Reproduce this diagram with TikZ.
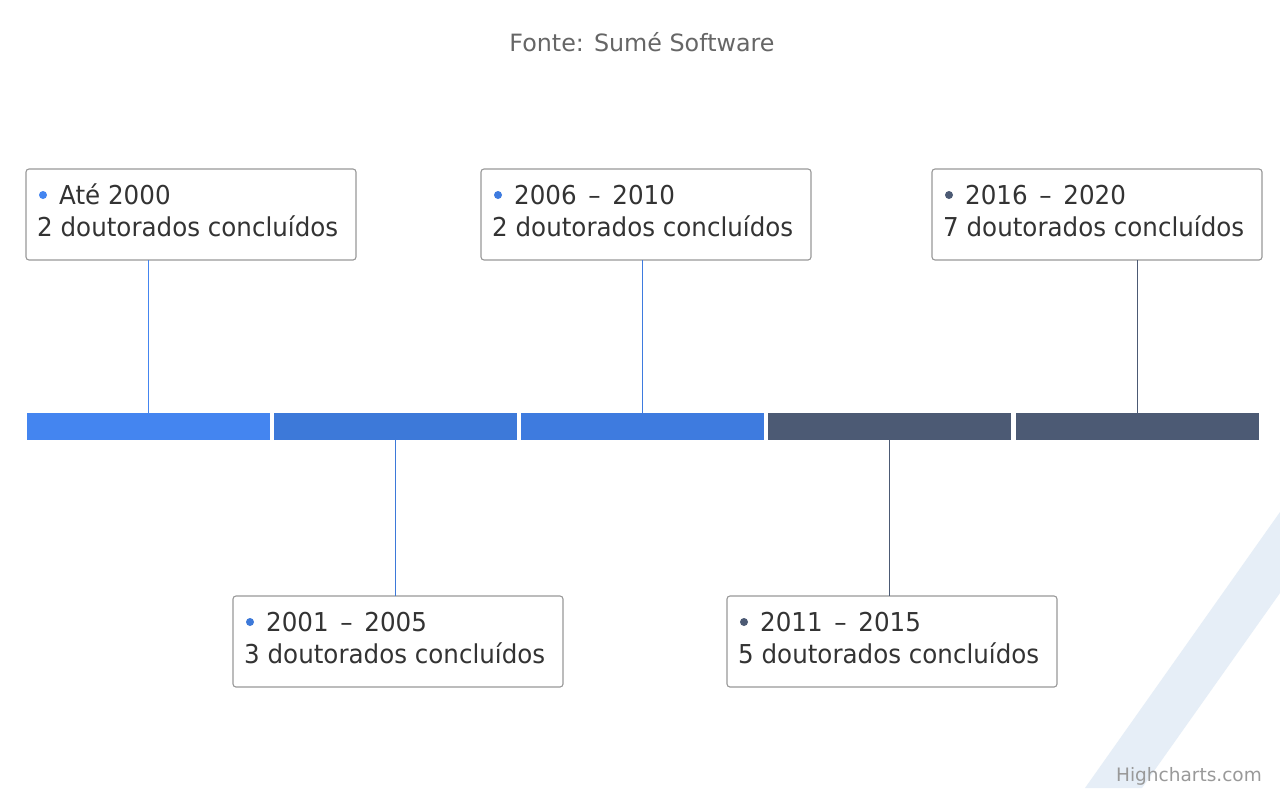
\documentclass[tikz,border=0pt]{standalone}
\usepackage{fontspec}
\newfontfamily\boxfont[FakeStretch=0.945]{DejaVu Sans}
\newfontfamily\titlefont{DejaVu Sans}
\usetikzlibrary{calc}
\definecolor{blueA}{HTML}{4485F0}
\definecolor{blueB}{HTML}{3D79D9}
\definecolor{blueC}{HTML}{3E7BDF}
\definecolor{slate}{HTML}{4C5A74}
\definecolor{txt}{HTML}{333333}
\definecolor{boxline}{HTML}{999999}
\definecolor{wm}{HTML}{E6EEF7}
\definecolor{subt}{HTML}{666666}
\definecolor{credit}{HTML}{999999}
\begin{document}
\begin{tikzpicture}[x=1pt,y=-1pt,
  seg/.style={fill=#1, draw=none, inner sep=0pt, outer sep=0pt, minimum height=27pt, minimum width=243pt, anchor=north west},
  card/.style={draw=boxline, line width=1.1pt, rounded corners=3pt, fill=white, minimum width=330pt, minimum height=91pt, anchor=north west, inner sep=0pt, outer sep=0pt},
  line1/.style={anchor=base west, inner sep=0pt, font=\boxfont\fontsize{26}{30}\selectfont, text=txt},
  dotmark/.style={circle, fill=#1, draw=none, inner sep=0pt, minimum size=8pt},
  stem/.style={draw=#1, line width=1.8pt}]
\useasboundingbox (0,0) rectangle (1280,788);
\fill[white] (0,0) rectangle (1280,788);
% watermark stripe
\fill[wm] (1085,788) -- (1280,512) -- (1280,593) -- (1142,788) -- cycle;
% title and credit
\node[font=\titlefont\fontsize{23.8}{28}\selectfont, text=subt, inner sep=0pt] (title) at (642,42) {Fonte: Sumé Software};
\node[font=\titlefont\fontsize{18.5}{22}\selectfont, text=credit, anchor=base east, inner sep=0pt] (credit) at (1262,781) {Highcharts.com};
% timeline segments
\node[seg=blueA] (s1) at (27,413) {};
\node[seg=blueB] (s2) at (274,413) {};
\node[seg=blueC] (s3) at (521,413) {};
\node[seg=slate] (s4) at (768,413) {};
\node[seg=slate] (s5) at (1016,413) {};
% cards
\node[card] (c1) at (26,169) {};
\node[card] (c2) at (233,596) {};
\node[card] (c3) at (481,169) {};
\node[card] (c4) at (727,596) {};
\node[card] (c5) at (932,169) {};
% stems
\draw[stem=blueA] (s1.north) -- (s1.north |- c1.south);
\draw[stem=blueB] (s2.south) -- (s2.south |- c2.north);
\draw[stem=blueC] (s3.north) -- (s3.north |- c3.south);
\draw[stem=slate] (s4.south) -- (s4.south |- c4.north);
\draw[stem=slate] (s5.north) -- (s5.north |- c5.south);
% card texts
\node[dotmark=blueA] (d1) at ($(c1.north west)+(17,26)$) {};
\node[line1] (h1) at ($(c1.north west)+(33,35)$) {Até 2000};
\node[line1] (t1) at ($(c1.north west)+(11,67)$) {2 doutorados concluídos};
\node[dotmark=blueB] (d2) at ($(c2.north west)+(17,26)$) {};
\node[line1] (h2) at ($(c2.north west)+(33,35)$) {2001\hspace{0.45em}–\hspace{0.45em}2005};
\node[line1] (t2) at ($(c2.north west)+(11,67)$) {3 doutorados concluídos};
\node[dotmark=blueC] (d3) at ($(c3.north west)+(17,26)$) {};
\node[line1] (h3) at ($(c3.north west)+(33,35)$) {2006\hspace{0.45em}–\hspace{0.45em}2010};
\node[line1] (t3) at ($(c3.north west)+(11,67)$) {2 doutorados concluídos};
\node[dotmark=slate] (d4) at ($(c4.north west)+(17,26)$) {};
\node[line1] (h4) at ($(c4.north west)+(33,35)$) {2011\hspace{0.45em}–\hspace{0.45em}2015};
\node[line1] (t4) at ($(c4.north west)+(11,67)$) {5 doutorados concluídos};
\node[dotmark=slate] (d5) at ($(c5.north west)+(17,26)$) {};
\node[line1] (h5) at ($(c5.north west)+(33,35)$) {2016\hspace{0.45em}–\hspace{0.45em}2020};
\node[line1] (t5) at ($(c5.north west)+(11,67)$) {7 doutorados concluídos};
\end{tikzpicture}
\end{document}
